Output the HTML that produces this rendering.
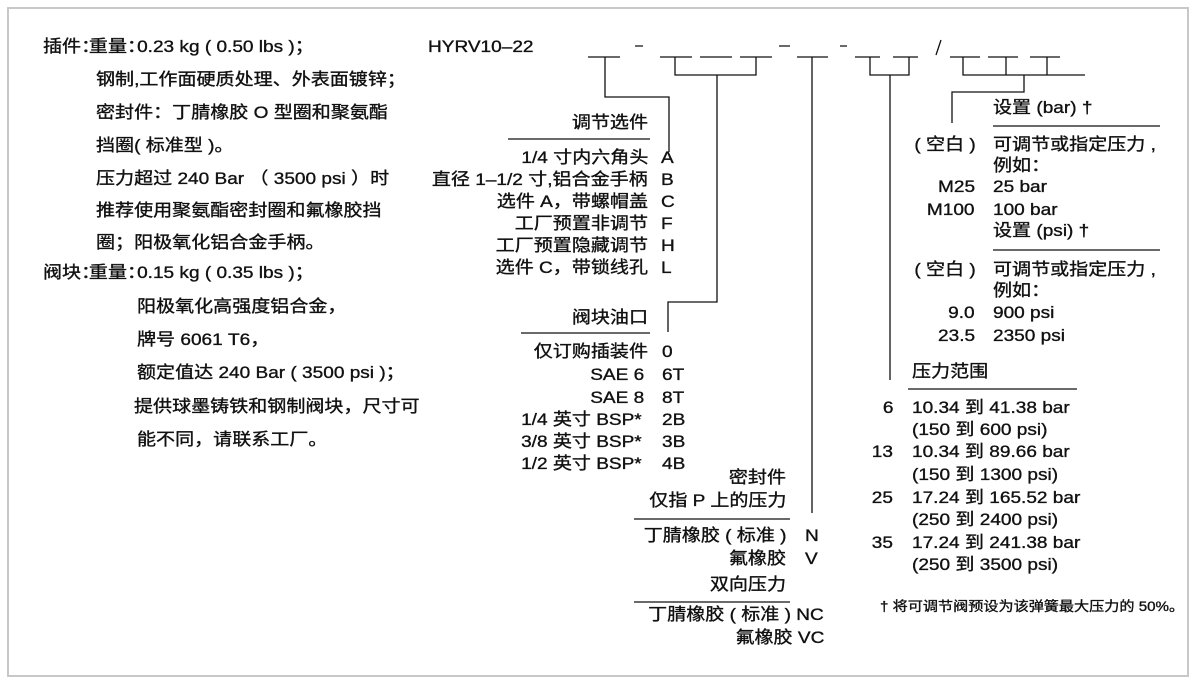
<!DOCTYPE html>
<html><head><meta charset="utf-8"><style>
body{margin:0;background:#fff;}
#c{position:relative;width:1200px;height:684px;overflow:hidden;background:#fff;font-family:"Liberation Sans","Noto Sans CJK SC",sans-serif;font-size:17px;color:#111;}
.t{position:absolute;height:20px;line-height:20px;white-space:nowrap;transform:scaleX(1.12);transform-origin:left center;-webkit-text-stroke:0.35px #111;}
.r{text-align:right;transform-origin:right center;}
svg{position:absolute;left:0;top:0;}
</style></head><body><div id="c">
<svg width="1200" height="684" stroke="#111" stroke-width="1.3" fill="none">
<rect x="8" y="8" width="1180" height="668" stroke="#c8c8c8" stroke-width="2"/>
<path d="M588 57H620 M660 57H692 M700 57H732 M740 57H772 M797 57H828 M855 57H880 M893 57H918 M950 57H980 M988 57H1018 M1030 57H1060"/>
<path d="M635 46H643 M779 46H790 M840 46H847" />
<path d="M941 40L936 55"/>
<path d="M605 57V97H669V152"/>
<path d="M675 57V75H756V57 M717 75V302H668V332"/>
<path d="M812 57V513"/>
<path d="M870 57V75H909V57 M890 75V380"/>
<path d="M963 57V75H1085 M1006 57V75 M1047 57V75 M1024 75V92H952V123"/>
<path d="M508 139H650 M521 333H650 M634 519H790 M634 602H790 M993 126H1160 M993 250H1160 M908 389H1077"/>
</svg>

<div class="t" style="left:43px;top:37px">插件：<span style="margin-left:-10px">重量：</span><span style="margin-left:-8px">0.23 kg ( 0.50 lbs )；</span></div>
<div class="t" style="left:96px;top:70px">钢制,工作面硬质处理、外表面镀锌；</div>
<div class="t" style="left:96px;top:103px">密封件：丁腈橡胶 O 型圈和聚氨酯</div>
<div class="t" style="left:96px;top:136px">挡圈( 标准型 )。</div>
<div class="t" style="left:96px;top:169px">压力超过 240 Bar （ 3500 psi ）时</div>
<div class="t" style="left:96px;top:201px">推荐使用聚氨酯密封圈和氟橡胶挡</div>
<div class="t" style="left:96px;top:233px">圈；阳极氧化铝合金手柄。</div>
<div class="t" style="left:43px;top:263px">阀块：<span style="margin-left:-10px">重量：</span><span style="margin-left:-8px">0.15 kg ( 0.35 lbs )；</span></div>
<div class="t" style="left:137px;top:297px">阳极氧化高强度铝合金，</div>
<div class="t" style="left:137px;top:330px">牌号 6061 T6，</div>
<div class="t" style="left:137px;top:363px">额定值达 240 Bar ( 3500 psi )；</div>
<div class="t" style="left:134px;top:397px">提供球墨铸铁和钢制阀块，尺寸可</div>
<div class="t" style="left:137px;top:430px">能不同，请联系工厂。</div>

<div class="t" style="left:428px;top:37px">HYRV10–22</div>

<div class="t r" style="right:552px;top:113px">调节选件</div>
<div class="t r" style="right:552px;top:148px">1/4 寸内六角头</div>
<div class="t r" style="right:552px;top:170px">直径 1–1/2 寸,铝合金手柄</div>
<div class="t r" style="right:552px;top:192px">选件 A，带螺帽盖</div>
<div class="t r" style="right:552px;top:214px">工厂预置非调节</div>
<div class="t r" style="right:552px;top:236px">工厂预置隐藏调节</div>
<div class="t r" style="right:552px;top:258px">选件 C，带锁线孔</div>
<div class="t" style="left:661px;top:148px">A</div>
<div class="t" style="left:661px;top:170px">B</div>
<div class="t" style="left:661px;top:192px">C</div>
<div class="t" style="left:661px;top:214px">F</div>
<div class="t" style="left:661px;top:236px">H</div>
<div class="t" style="left:661px;top:258px">L</div>

<div class="t r" style="right:552px;top:308px">阀块油口</div>
<div class="t r" style="right:552px;top:342px">仅订购插装件</div>
<div class="t r" style="right:556px;top:365px">SAE 6</div>
<div class="t r" style="right:556px;top:388px">SAE 8</div>
<div class="t r" style="right:558px;top:410px">1/4 英寸 BSP*</div>
<div class="t r" style="right:558px;top:432px">3/8 英寸 BSP*</div>
<div class="t r" style="right:558px;top:454px">1/2 英寸 BSP*</div>
<div class="t" style="left:662px;top:342px">0</div>
<div class="t" style="left:662px;top:365px">6T</div>
<div class="t" style="left:662px;top:388px">8T</div>
<div class="t" style="left:662px;top:410px">2B</div>
<div class="t" style="left:662px;top:432px">3B</div>
<div class="t" style="left:662px;top:454px">4B</div>

<div class="t r" style="right:414px;top:468px">密封件</div>
<div class="t r" style="right:414px;top:491px">仅指 P 上的压力</div>
<div class="t r" style="right:414px;top:526px">丁腈橡胶 ( 标准 )</div>
<div class="t r" style="right:414px;top:549px">氟橡胶</div>
<div class="t" style="left:805px;top:526px">N</div>
<div class="t" style="left:805px;top:549px">V</div>
<div class="t r" style="right:414px;top:575px">双向压力</div>
<div class="t r" style="right:376px;top:605px">丁腈橡胶 ( 标准 ) NC</div>
<div class="t r" style="right:376px;top:628px">氟橡胶 VC</div>

<div class="t" style="left:993px;top:98px">设置 (bar) †</div>
<div class="t r" style="right:224px;top:135px">( 空白 )</div>
<div class="t" style="left:993px;top:135px">可调节或指定压力 ,</div>
<div class="t" style="left:993px;top:156px">例如：</div>
<div class="t r" style="right:225px;top:177px">M25</div>
<div class="t" style="left:993px;top:177px">25 bar</div>
<div class="t r" style="right:225px;top:200px">M100</div>
<div class="t" style="left:993px;top:200px">100 bar</div>
<div class="t" style="left:993px;top:221px">设置 (psi) †</div>
<div class="t r" style="right:224px;top:260px">( 空白 )</div>
<div class="t" style="left:993px;top:260px">可调节或指定压力 ,</div>
<div class="t" style="left:993px;top:281px">例如：</div>
<div class="t r" style="right:225px;top:303px">9.0</div>
<div class="t" style="left:993px;top:303px">900 psi</div>
<div class="t r" style="right:225px;top:326px">23.5</div>
<div class="t" style="left:993px;top:326px">2350 psi</div>

<div class="t" style="left:912px;top:362px">压力范围</div>
<div class="t r" style="right:307px;top:398px">6</div>
<div class="t" style="left:912px;top:398px">10.34 到 41.38 bar</div>
<div class="t" style="left:912px;top:420px">(150 到 600 psi)</div>
<div class="t r" style="right:307px;top:442px">13</div>
<div class="t" style="left:912px;top:442px">10.34 到 89.66 bar</div>
<div class="t" style="left:912px;top:465px">(150 到 1300 psi)</div>
<div class="t r" style="right:307px;top:488px">25</div>
<div class="t" style="left:912px;top:488px">17.24 到 165.52 bar</div>
<div class="t" style="left:912px;top:510px">(250 到 2400 psi)</div>
<div class="t r" style="right:307px;top:533px">35</div>
<div class="t" style="left:912px;top:533px">17.24 到 241.38 bar</div>
<div class="t" style="left:912px;top:555px">(250 到 3500 psi)</div>
<div class="t" style="left:880px;top:597px;font-size:13.5px">† 将可调节阀预设为该弹簧最大压力的 50%。</div>
</div></body></html>
